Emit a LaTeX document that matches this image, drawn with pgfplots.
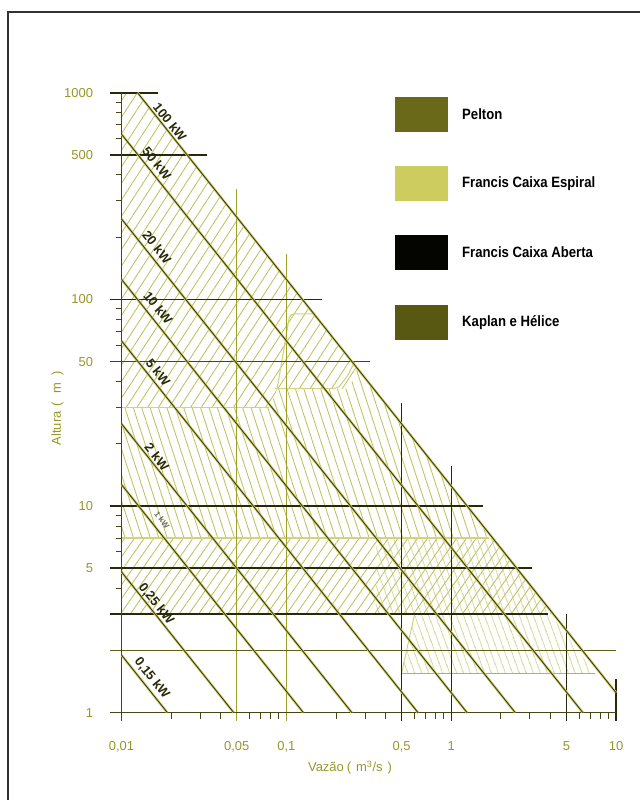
\documentclass[border=0pt]{standalone}
\usepackage{fontspec}
\setmainfont{Liberation Sans}
\usepackage{pgfplots}
\pgfplotsset{compat=1.18}
\usetikzlibrary{patterns.meta}

\definecolor{dk}{RGB}{40,40,10}
\definecolor{axc}{RGB}{70,70,20}
\definecolor{olv}{RGB}{95,95,25}
\definecolor{yol}{RGB}{160,160,45}
\definecolor{pale}{RGB}{210,210,130}
\definecolor{hatch}{RGB}{192,192,98}
\definecolor{tickc}{RGB}{150,150,40}
\definecolor{halo}{RGB}{200,200,100}
\definecolor{pwr}{RGB}{55,55,15}
\definecolor{cPel}{RGB}{105,105,25}
\definecolor{cEsp}{RGB}{205,205,95}
\definecolor{cAbe}{RGB}{5,5,0}
\definecolor{cKap}{RGB}{88,88,18}

\tikzset{
  pw/.style={draw=pwr, line width=0.8bp, preaction={draw=halo, line width=2.4bp}},
  lb/.style={rotate=-51.4, text=dk, font=\fontsize{13}{15}\selectfont\bfseries, inner sep=0pt},
  lg/.style={anchor=west, text=black, font=\fontsize{15}{17}\selectfont\bfseries, inner sep=0pt}
}

\begin{document}
\begin{tikzpicture}[x=1bp,y=1bp]
\path[use as bounding box] (0,0) rectangle (640,800);
\draw[line width=1.3bp, black!80] (8,0) -- (8,788) -- (640,788);

\begin{axis}[
  at={(121.5bp,87.3bp)}, anchor=south west,
  scale only axis, width=494.5bp, height=620bp,
  xmode=log, ymode=log,
  xmin=0.01, xmax=10, ymin=1, ymax=1000,
  clip=false,
  axis x line=bottom, axis y line=left,
  axis line style={draw=none},
  xtick={0.01,0.05,0.1,0.5,1,5,10},
  xticklabels={{0,01},{0,05},{0,1},{0,5},{1},{5},{10}},
  ytick={1,5,10,50,100,500,1000},
  yticklabels={1,5,10,50,100,500,1000},
  minor xtick={0.02,0.03,0.04,0.06,0.07,0.08,0.09,0.2,0.3,0.4,0.6,0.7,0.8,0.9,2,3,4,6,7,8,9},
  minor ytick={2,3,4,6,7,8,9,20,30,40,60,70,80,90,200,300,400,600,700,800,900},
  major tick length=0pt, minor tick length=6bp,
  tick align=outside,
  tick style={draw=axc, line width=0.9bp},
  xticklabel style={font=\fontsize{13}{15}\selectfont, text=tickc, yshift=-25bp},
  yticklabel style={font=\fontsize{13}{15}\selectfont, text=tickc, xshift=-25bp},
]
% ---- hatched regions ----
% Pelton
\addplot[draw=none, pattern={Lines[angle=57,distance=9bp,line width=0.85bp]}, pattern color=hatch]
  coordinates {(0.01,30) (0.01,1000) (0.0125,1000) (0.27,46.3) (0.24,37) (0.088,37) (0.08,30)} -- cycle;
% Francis (upper, backslash)
\addplot[draw=none, pattern={Lines[angle=-72,distance=8bp,line width=0.85bp]}, pattern color=hatch]
  coordinates {(0.01,7) (0.01,30) (0.08,30) (0.088,37) (0.24,37) (0.27,46.3) (1.786,7)} -- cycle;
% Francis (lower band, slash)
\addplot[draw=none, pattern={Lines[angle=55,distance=8bp,line width=0.85bp]}, pattern color=hatch]
  coordinates {(0.01,3) (0.01,7) (1.786,7) (4.17,3)} -- cycle;
% Kaplan
\addplot[draw=none, pattern={Lines[angle=-70,distance=6.8bp,line width=0.85bp]}, pattern color=hatch]
  coordinates {(0.5,1.55) (0.6,3) (0.35,3) (0.35,7) (1.786,7) (7.5,1.55)} -- cycle;

% ---- pale boundary lines ----
\addplot[pale, line width=1.1bp] coordinates {(0.01,30) (0.079,30)};
\addplot[pale, line width=1.1bp] coordinates {(0.01,7) (1.7,7)};
\addplot[pale, line width=1.1bp, rounded corners=4bp] coordinates {(0.088,37) (0.105,85) (0.147,85)};
\addplot[pale, line width=1.1bp, rounded corners=5bp] coordinates {(0.085,37) (0.205,37) (0.237,43) (0.26,50)};
\addplot[yol!80, line width=1.1bp] coordinates {(0.5,1.55) (7.47,1.55)};
\addplot[pale, line width=1.0bp] coordinates {(0.5,1.55) (0.6,3)};

% ---- vertical lines ----
\addplot[yol, line width=1.2bp] coordinates {(0.05,0.915) (0.05,343)};
\addplot[yol, line width=1.2bp] coordinates {(0.1,0.915) (0.1,166)};
\addplot[dk, line width=1.3bp] coordinates {(0.5,0.915) (0.5,31.6)};
\addplot[dk, line width=1.3bp] coordinates {(1,0.915) (1,15.7)};
\addplot[dk, line width=1.3bp] coordinates {(5,0.915) (5,3.0)};
\addplot[dk, line width=1.3bp] coordinates {(10,0.915) (10,1.46)};

% ---- horizontal lines ----
\addplot[dk, line width=1.7bp] coordinates {(0.0085,1000) (0.0166,1000)};
\addplot[dk, line width=1.7bp] coordinates {(0.0085,500) (0.0331,500)};
\addplot[dk, line width=1.7bp] coordinates {(0.0085,100) (0.165,100)};
\addplot[axc, line width=1.7bp] coordinates {(0.0085,50) (0.322,50)};
\addplot[dk, line width=1.7bp] coordinates {(0.0085,10) (1.56,10)};
\addplot[dk, line width=1.7bp] coordinates {(0.0085,5) (3.1,5)};
\addplot[dk, line width=1.7bp] coordinates {(0.0085,3) (3.87,3)};
\addplot[olv, line width=1.5bp] coordinates {(0.0085,2) (10,2)};

% ---- axes ----
\addplot[axc, line width=1.6bp] coordinates {(0.0085,1) (10,1)};
\addplot[axc, line width=1.6bp] coordinates {(0.01,0.915) (0.01,1000)};

% ---- power lines ----
\addplot[pw] coordinates {(0.0125,1000) (10,1.25)};
\addplot[pw] coordinates {(0.01,630) (6.3,1)};
\addplot[pw] coordinates {(0.01,245) (2.45,1)};
\addplot[pw] coordinates {(0.01,125) (1.25,1)};
\addplot[pw] coordinates {(0.01,63) (0.63,1)};
\addplot[pw] coordinates {(0.01,25) (0.25,1)};
\addplot[pw] coordinates {(0.01,12.7) (0.127,1)};
\addplot[pw] coordinates {(0.01,4.8) (0.048,1)};
\addplot[pw] coordinates {(0.01,1.9) (0.019,1)};

% ---- power labels ----
\node[lb] at (axis cs:0.0197,721) {100 kW};
\node[lb] at (axis cs:0.0164,456) {50 kW};
\node[lb] at (axis cs:0.0164,179) {20 kW};
\node[lb] at (axis cs:0.0167,90.8) {10 kW};
\node[lb] at (axis cs:0.0167,44.5) {5 kW};
\node[lb] at (axis cs:0.0164,17.3) {2 kW};
\node[lb, font=\fontsize{8}{9}\selectfont\bfseries, text=dk!70] at (axis cs:0.0176,8.56) {1 kW};
\node[lb] at (axis cs:0.0162,3.36) {0,25 kW};
\node[lb] at (axis cs:0.0153,1.47) {0,15 kW};
\end{axis}

% axis titles
\node[rotate=90, text=tickc, font=\fontsize{13}{15}\selectfont] at (57.5,392) {Altura\hspace{5bp}(\hspace{8bp}m\hspace{8bp})};
\node[text=tickc, font=\fontsize{13}{15}\selectfont] at (350,32) {Vazão\hspace{3bp}(\hspace{5bp}m\textsuperscript{3}/s\hspace{5bp})};

% legend
\fill[cPel] (395,668) rectangle (448,703);
\fill[cEsp] (395,599) rectangle (448,634);
\fill[cAbe] (395,530) rectangle (448,565);
\fill[cKap] (395,460) rectangle (448,495);
\node[lg] at (462,685.5) {\scalebox{0.88}[1]{Pelton}};
\node[lg] at (462,616.5) {\scalebox{0.88}[1]{Francis Caixa Espiral}};
\node[lg] at (462,547.5) {\scalebox{0.88}[1]{Francis Caixa Aberta}};
\node[lg] at (462,477.5) {\scalebox{0.88}[1]{Kaplan e Hélice}};
\end{tikzpicture}
\end{document}
